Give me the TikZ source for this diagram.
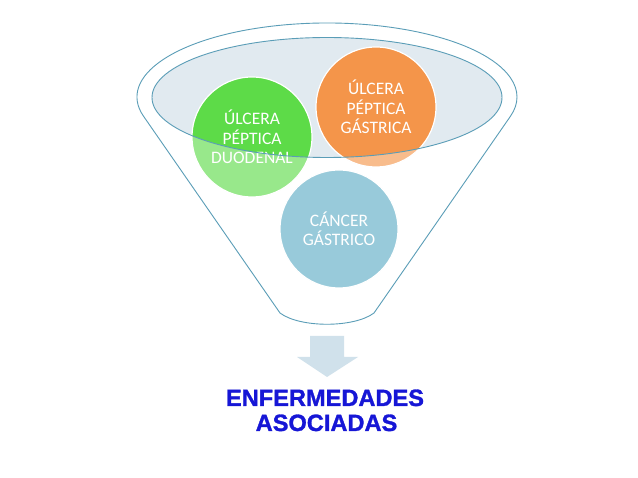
\documentclass[tikz,border=0pt]{standalone}
\usepackage{fontspec}
\usetikzlibrary{calc}
\setmainfont{Carlito}
\newfontfamily\arialfont{Liberation Sans}[BoldFeatures={FakeBold=1.3}]
\definecolor{funnelline}{HTML}{5A9DB7}
\definecolor{ellfill}{HTML}{E1EAF0}
\definecolor{cgreen}{HTML}{5DDB48}
\definecolor{corange}{HTML}{F4954A}
\definecolor{cblue}{HTML}{5CACC5}
\definecolor{arrowfill}{HTML}{D0E1EB}
\definecolor{titleblue}{HTML}{1616D6}
\tikzset{
  bubble/.style={circle, minimum size=120pt, inner sep=0pt, draw=white, line width=1.2pt,
    text=white, align=center, font=\fontsize{17.5}{19.5}\selectfont},
  title/.style={anchor=base, text=titleblue, inner sep=0pt,
    font=\arialfont\bfseries\fontsize{23.6}{25}\selectfont},
  funnel/.style={draw=funnelline, line width=0.9pt}
}
\begin{document}
\begin{tikzpicture}[x=1pt,y=-1pt]
\useasboundingbox (0,0) rectangle (638,478);
\fill[white] (0,0) rectangle (638,478);
% inner ellipse fill
\fill[ellfill] (327,97.5) ellipse [x radius=175, y radius=60];
% bubbles
\node[bubble, fill=cgreen] (duo) at (252,137) {ÚLCERA\\PÉPTICA\\DUODENAL};
\node[bubble, fill=corange] (gas) at (376,107) {ÚLCERA\\PÉPTICA\\GÁSTRICA};
\node[bubble, fill=cblue, minimum size=118pt] (can) at (339,229) {CÁNCER\\GÁSTRICO};
% whitish veil outside the ellipse
\fill[white, opacity=0.37, even odd rule] (0,0) rectangle (638,478)
  (327,97.5) ellipse [x radius=175, y radius=60];
% inner ellipse outline
\draw[funnel] (327,97.5) ellipse [x radius=175, y radius=60];
% funnel outline
\coordinate (oc) at (327,97);
\draw[funnel, line join=round]
  ($(oc)+(165:190 and 74)$) arc[start angle=165, end angle=375, x radius=190, y radius=74]
  -- (374,313) .. controls (354,328) and (300,328) .. (280,313) -- cycle;
% arrow
\coordinate (ar) at (327,336);
\fill[arrowfill] ($(ar)+(-17,0)$) -- ++(34,0) -- ++(0,21) -- ++(14,0) -- ($(ar)+(0,41)$)
  -- ($(ar)+(-30,21)$) -- ++(13,0) -- cycle;
% title
\node[title] (t1) at (325,406) {ENFERMEDADES};
\node[title] (t2) at (326.5,431) {ASOCIADAS};
\end{tikzpicture}
\end{document}
